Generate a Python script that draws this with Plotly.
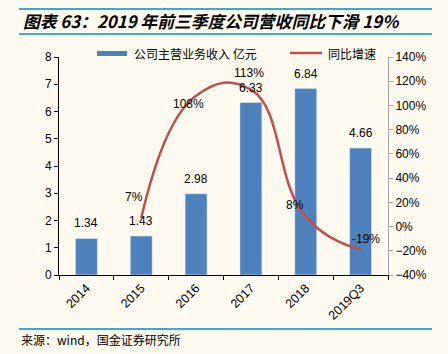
import plotly.graph_objects as go

categories = ["2014", "2015", "2016", "2017", "2018", "2019Q3"]
revenue = [1.34, 1.43, 2.98, 6.33, 6.84, 4.66]
growth_cats = ["2015", "2016", "2017", "2018", "2019Q3"]
growth = [0.07, 1.08, 1.13, 0.08, -0.19]
growth_labels = ["7%", "108%", "113%", "8%", "-19%"]
bar_name = "公司主营业务收入 亿元"
line_name = "同比增速"
title_text = "图表 63：2019 年前三季度公司营收同比下滑 19%"
source_text = "来源：wind，国金证券研究所"

W, H = 448, 354
L, R, T, B = 59, 388, 57, 275
BLUE = "#4F81BD"
RED = "#C0504D"
BG = "#FEFAF0"
LINEBLUE = "#3AA8E0"
FONT = "Liberation Sans, Arial, sans-serif"
CJK = "Noto Sans CJK SC"

def px(x):
    return (x - L) / (R - L)

def py(y):
    return (B - y) / (B - T)

fig = go.Figure()
fig.add_trace(go.Bar(x=categories, y=revenue, marker_color=BLUE, width=0.4,
                     name=bar_name, showlegend=False))
fig.add_trace(go.Scatter(x=growth_cats, y=growth, yaxis="y2", mode="lines",
                         line=dict(color=RED, width=2.5, shape="spline", smoothing=1.3),
                         name=line_name, showlegend=False))

ann = []
for i, v in enumerate(revenue):
    ann.append(dict(x=i, y=v, xref="x", yref="y", text=f"{v:.2f}", showarrow=False,
                    yanchor="bottom", yshift=6, font=dict(family=FONT, size=12, color="#000")))
shifts = [(-7, 21), (-8, -8), (-2, 17), (-11, 12), (5, 11)]
for c, v, t, (dx, dy) in zip(growth_cats, growth, growth_labels, shifts):
    ann.append(dict(x=categories.index(c), y=v, xref="x", yref="y2", text=t, showarrow=False,
                    xshift=dx, yshift=dy, font=dict(family=FONT, size=12, color="#000")))

# title and source
ann.append(dict(x=px(21), y=py(21), xref="paper", yref="paper", text=f"<b><i>{title_text}</i></b>",
                showarrow=False, xanchor="left", yanchor="middle",
                font=dict(family=CJK, size=16.8, color="#000")))
ann.append(dict(x=px(19), y=py(339), xref="paper", yref="paper", text=source_text,
                showarrow=False, xanchor="left", yanchor="middle",
                font=dict(family=CJK, size=12, color="#000")))
# legend texts
ann.append(dict(x=px(132), y=py(53), xref="paper", yref="paper", text=bar_name,
                showarrow=False, xanchor="left", yanchor="middle",
                font=dict(family=CJK, size=12, color="#000")))
ann.append(dict(x=px(326), y=py(53), xref="paper", yref="paper", text=line_name,
                showarrow=False, xanchor="left", yanchor="middle",
                font=dict(family=CJK, size=12, color="#000")))

shapes = [
    dict(type="line", xref="paper", yref="paper", x0=px(19), x1=px(432), y0=py(9), y1=py(9),
         line=dict(color=LINEBLUE, width=2)),
    dict(type="line", xref="paper", yref="paper", x0=px(19), x1=px(432), y0=py(34), y1=py(34),
         line=dict(color=LINEBLUE, width=2)),
    dict(type="line", xref="paper", yref="paper", x0=px(19), x1=px(432), y0=py(329), y1=py(329),
         line=dict(color=LINEBLUE, width=2)),
    dict(type="rect", xref="paper", yref="paper", x0=px(97), x1=px(127), y0=py(56), y1=py(51),
         fillcolor=BLUE, line=dict(width=0)),
    dict(type="line", xref="paper", yref="paper", x0=px(290), x1=px(322), y0=py(53), y1=py(53),
         line=dict(color=RED, width=2.5)),
]

fig.update_layout(
    width=W, height=H,
    margin=dict(l=L, r=W - R, t=T, b=H - B),
    paper_bgcolor=BG, plot_bgcolor=BG,
    showlegend=False,
    font=dict(family=FONT, size=12, color="#000"),
    annotations=ann, shapes=shapes,
    xaxis=dict(type="category", range=[-0.5, 5.5], showline=True, linecolor="#000", linewidth=1,
               ticks="outside", tickson="boundaries", ticklen=4, tickcolor="#000",
               tickangle=-45, showgrid=False, zeroline=False,
               tickfont=dict(family=FONT, size=12.5)),
    yaxis=dict(range=[0, 8], dtick=1, showline=True, linecolor="#000", linewidth=1,
               ticks="outside", ticklen=4, tickcolor="#000", showgrid=False, zeroline=False,
               tickfont=dict(family=FONT, size=12)),
    yaxis2=dict(range=[-0.4, 1.4], dtick=0.2, tickformat=".0%", overlaying="y", side="right",
                showline=True, linecolor="#A6A6A6", linewidth=1, ticks="outside", ticklen=4,
                tickcolor="#A6A6A6", showgrid=False, zeroline=False,
                tickfont=dict(family=FONT, size=12)),
)

fig.write_html("out.html")
